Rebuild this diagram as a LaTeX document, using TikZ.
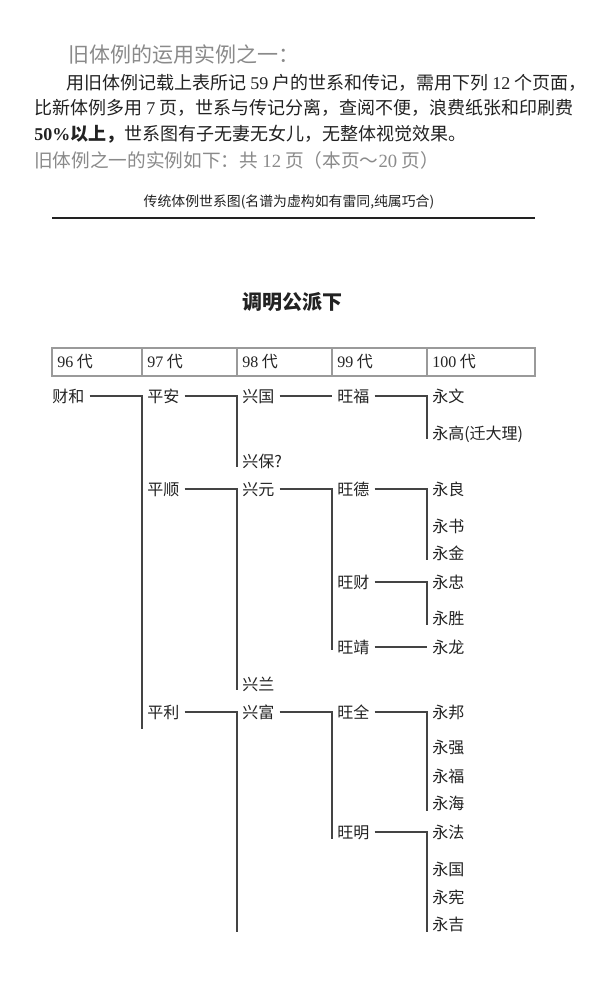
\documentclass[tikz,border=0pt]{standalone}
\usepackage{fontspec}
\setmainfont{Liberation Serif}
\newfontfamily\cjk{Noto Sans CJK SC}
\newfontfamily\lat{Liberation Serif}
\newcommand\nm[1]{{\lat #1}}
\definecolor{titlegray}{HTML}{8A8A8A}
\definecolor{linegray}{HTML}{444444}
\definecolor{tablegray}{HTML}{9A9A9A}
\definecolor{ink}{HTML}{222222}
\begin{document}
\begin{tikzpicture}[x=0.75pt,y=-0.75pt,
  tn/.style={anchor=west, inner xsep=3.75pt, inner ysep=0pt, text height=10.5pt, text depth=1.5pt,
             text=ink, font=\cjk\fontsize{12pt}{14pt}\selectfont},
  tl/.style={draw=linegray, line width=0.9pt},
  pl/.style={anchor=west, inner sep=0pt, text=ink, font=\cjk\fontsize{13.5pt}{16pt}\selectfont},
  gl/.style={anchor=west, inner sep=0pt, text=titlegray},
  cell/.style={draw=tablegray, line width=0.8pt},
  hd/.style={anchor=west, inner sep=0pt, text=ink, font=\cjk\fontsize{12pt}{14pt}\selectfont}
]
\useasboundingbox (0,0) rectangle (600,984);
\fill[white] (0,0) rectangle (600,984);

% ---- introductory text ----
\node[gl, font=\cjk\fontsize{15.75pt}{18pt}\selectfont] (title) at (68,55) {旧体例的运用实例之一：};
\node[pl] (p1) at (66,83) {用旧体例记载上表所记 \nm{59} 户的世系和传记，需用下列 \nm{12} 个页面，};
\node[pl] (p2) at (34,108) {比新体例多用 \nm{7} 页，世系与传记分离，查阅不便，浪费纸张和印刷费};
\node[pl] (p3) at (34,134) {{\lat\bfseries 50\%}{\bfseries 以上，}世系图有子无妻无女儿，无整体视觉效果。};
\node[gl, font=\cjk\fontsize{14pt}{17pt}\selectfont] (p4) at (34,160) {旧体例之一的实例如下：共 \nm{12} 页（本页～\nm{20} 页）};

% ---- caption and rule ----
\node[inner sep=0pt, text=ink, font=\cjk\fontsize{10.4pt}{12pt}\selectfont] (cap) at (289,202) {传统体例世系图(名谱为虚构如有雷同,纯属巧合)};
\coordinate (r1) at (52,218);
\coordinate (r2) at (535,218);
\draw[line width=1.1pt, draw=ink] (r1) -- (r2);

% ---- branch title ----
\node[inner sep=0pt, text=ink, font=\cjk\bfseries\fontsize{15pt}{18pt}\selectfont] (branch) at (292,302) {调明公派下};

% ---- generation table ----
\draw[cell] (52,348) rectangle (142,376);
\draw[cell] (142,348) rectangle (237,376);
\draw[cell] (237,348) rectangle (332,376);
\draw[cell] (332,348) rectangle (427,376);
\draw[cell] (427,348) rectangle (535,376);
\node[hd] (g96) at (57,362) {\nm{96} 代};
\node[hd] (g97) at (147,362) {\nm{97} 代};
\node[hd] (g98) at (242,362) {\nm{98} 代};
\node[hd] (g99) at (337,362) {\nm{99} 代};
\node[hd] (g100) at (432,362) {\nm{100} 代};

% ---- tree nodes ----
\node[tn] (caihe) at (47,396) {财和};
\node[tn] (pingan) at (142,396) {平安};
\node[tn] (xingguo) at (237,396) {兴国};
\node[tn] (wangfu) at (332,396) {旺福};
\node[tn] (yongwen) at (427,396) {永文};
\node[tn] (yonggao) at (427,433) {永高(迁大理)};
\node[tn] (xingbao) at (237,461) {兴保?};
\node[tn] (pingshun) at (142,489) {平顺};
\node[tn] (xingyuan) at (237,489) {兴元};
\node[tn] (wangde) at (332,489) {旺德};
\node[tn] (yongliang) at (427,489) {永良};
\node[tn] (yongshu) at (427,526) {永书};
\node[tn] (yongjin) at (427,553) {永金};
\node[tn] (wangcai) at (332,582) {旺财};
\node[tn] (yongzhong) at (427,582) {永忠};
\node[tn] (yongsheng) at (427,618) {永胜};
\node[tn] (wangjing) at (332,647) {旺靖};
\node[tn] (yonglong) at (427,647) {永龙};
\node[tn] (xinglan) at (237,684) {兴兰};
\node[tn] (pingli) at (142,712) {平利};
\node[tn] (xingfu) at (237,712) {兴富};
\node[tn] (wangquan) at (332,712) {旺全};
\node[tn] (yongbang) at (427,712) {永邦};
\node[tn] (yongqiang) at (427,747) {永强};
\node[tn] (yongfu) at (427,776) {永福};
\node[tn] (yonghai) at (427,803) {永海};
\node[tn] (wangming) at (332,832) {旺明};
\node[tn] (yongfa) at (427,832) {永法};
\node[tn] (yongguo) at (427,869) {永国};
\node[tn] (yongxian) at (427,897) {永宪};
\node[tn] (yongji) at (427,924) {永吉};

% ---- ends of the vertical bars ----
\coordinate (e1) at (142,729);
\coordinate (e2) at (237,467);
\coordinate (e3) at (427,439);
\coordinate (e4) at (237,690);
\coordinate (e5) at (332,650);
\coordinate (e6) at (427,560);
\coordinate (e7) at (427,625);
\coordinate (e8) at (237,932);
\coordinate (e9) at (332,839);
\coordinate (e10) at (427,811);
\coordinate (e11) at (427,932);

% ---- connectors ----
\draw[tl] (caihe.east) -- (pingan.west) -- (e1);
\draw[tl] (pingan.east) -- (xingguo.west) -- (e2);
\draw[tl] (xingguo.east) -- (wangfu.west);
\draw[tl] (wangfu.east) -- (yongwen.west) -- (e3);
\draw[tl] (pingshun.east) -- (xingyuan.west) -- (e4);
\draw[tl] (xingyuan.east) -- (wangde.west) -- (e5);
\draw[tl] (wangde.east) -- (yongliang.west) -- (e6);
\draw[tl] (wangcai.east) -- (yongzhong.west) -- (e7);
\draw[tl] (wangjing.east) -- (yonglong.west);
\draw[tl] (pingli.east) -- (xingfu.west) -- (e8);
\draw[tl] (xingfu.east) -- (wangquan.west) -- (e9);
\draw[tl] (wangquan.east) -- (yongbang.west) -- (e10);
\draw[tl] (wangming.east) -- (yongfa.west) -- (e11);
\end{tikzpicture}
\end{document}
